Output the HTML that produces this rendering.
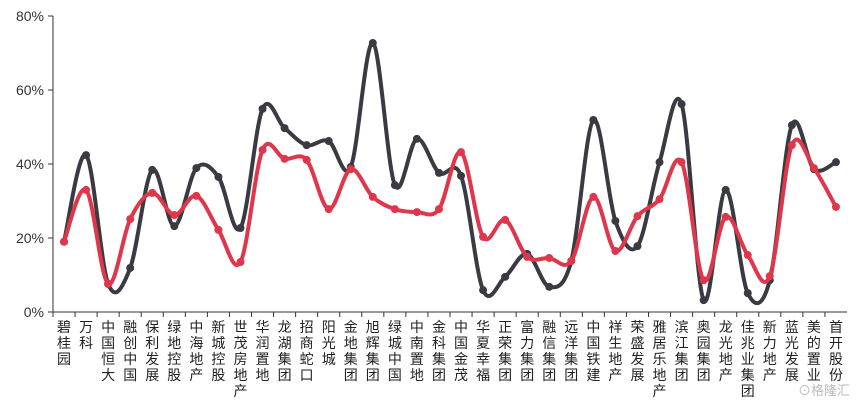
<!DOCTYPE html>
<html><head><meta charset="utf-8">
<style>
html,body{margin:0;padding:0;background:#fff;}
svg{display:block;font-family:"Liberation Sans","Noto Sans CJK SC",sans-serif;}
</style></head>
<body>
<svg id="chart" width="857" height="402" viewBox="0 0 857 402"></svg>
<script>
const categories=["碧桂园","万科","中国恒大","融创中国","保利发展","绿地控股","中海地产","新城控股","世茂房地产","华润置地","龙湖集团","招商蛇口","阳光城","金地集团","旭辉集团","绿城中国","中南置地","金科集团","中国金茂","华夏幸福","正荣集团","富力集团","融信集团","远洋集团","中国铁建","祥生地产","荣盛发展","雅居乐地产","滨江集团","奥园集团","龙光地产","佳兆业集团","新力地产","蓝光发展","美的置业","首开股份"];
const seriesDark=[19,42.4,7.6,11.9,38.4,23.2,38.9,36.5,22.7,54.9,49.7,45.1,46.2,39.2,72.7,34.3,46.8,37.6,36.8,5.9,9.5,15.7,6.8,13.8,51.9,24.6,17.8,40.5,56.2,3.2,33,5.1,8.6,50.5,38.6,40.5];
const seriesRed=[19,33,7.6,25.1,32.2,26.2,31.4,22.2,13.5,43.8,41.4,41.1,27.8,38.6,31.1,27.8,27,27.8,43.2,20.3,24.9,14.9,14.6,13.8,31.1,16.5,25.9,30.5,40.5,8.6,25.7,15.4,9.7,45.1,38.9,28.4];
const yTicks=[0,20,40,60,80];
const yTickLabels=["0%","20%","40%","60%","80%"];

const NS="http://www.w3.org/2000/svg";
const svg=document.getElementById('chart');
const X0=53,X1=847,Y0=312,Y1=16;
const step=(X1-X0)/categories.length;
const xs=i=>X0+step*(i+0.5);
const ys=v=>Y0-(v/80)*(Y0-Y1);
function mk(t,a){const e=document.createElementNS(NS,t);for(const k in a)e.setAttribute(k,a[k]);svg.appendChild(e);return e;}

// axes
let ax=mk('line',{x1:X0,y1:Y1,x2:X0,y2:Y0,stroke:'#333','stroke-width':1});


let bx=mk('line',{x1:X0,y1:Y0,x2:X1,y2:Y0,stroke:'#333','stroke-width':1});



yTicks.forEach((v,i)=>{
  const y=ys(v);
  const tk=mk('line',{x1:X0-5,y1:y,x2:X0,y2:y,stroke:'#333'});
  
  
  const t=mk('text',{x:X0-9,y:y+5,'text-anchor':'end','font-size':14,fill:'#333'});
  t.textContent=yTickLabels[i];
  
  
});

categories.forEach((c,i)=>{
  const tk=mk('line',{x1:X0+step*i,y1:Y0,x2:X0+step*i,y2:Y0+5,stroke:'#333'});
  
  
  const t=mk('text',{x:xs(i),y:Y0+20,'text-anchor':'middle','font-size':14,fill:'#222'});
  
  
  [...c].forEach((ch,j)=>{const ts=document.createElementNS(NS,'tspan');ts.setAttribute('x',xs(i));ts.setAttribute('y',Y0+20+j*16);ts.textContent=ch;t.appendChild(ts);});
});

function smoothPath(vals){
  const p=vals.map((v,i)=>[xs(i),ys(v)]);
  let d=`M${p[0][0]},${p[0][1]}`;
  const k=0.5/1.5;
  for(let i=0;i<p.length-1;i++){
    const p0=p[Math.max(i-1,0)],p1=p[i],p2=p[i+1],p3=p[Math.min(i+2,p.length-1)];
    const c1=[p1[0]+(p2[0]-p0[0])*k/2*1.0,p1[1]+(p2[1]-p0[1])*k/2*1.0];
    const c2=[p2[0]-(p3[0]-p1[0])*k/2*1.0,p2[1]-(p3[1]-p1[1])*k/2*1.0];
    d+=` C${c1[0]},${c1[1]} ${c2[0]},${c2[1]} ${p2[0]},${p2[1]}`;
  }
  return d;
}
function drawSeries(vals,color,name){
  const path=mk('path',{d:smoothPath(vals),fill:'none',stroke:color,'stroke-width':4,'stroke-linejoin':'round'});
  
  
  vals.forEach((v,i)=>{
    const c=mk('circle',{cx:xs(i),cy:ys(v),r:4,fill:color});
    
    
  });
}
drawSeries(seriesDark,'#3a3b42','dark-series');
drawSeries(seriesRed,'#e0364b','red-series');

const wm=mk('text',{x:850,y:395,'text-anchor':'end','font-size':13,fill:'#bbb'});
wm.textContent='⊙格隆汇';


</script>
</body></html>
